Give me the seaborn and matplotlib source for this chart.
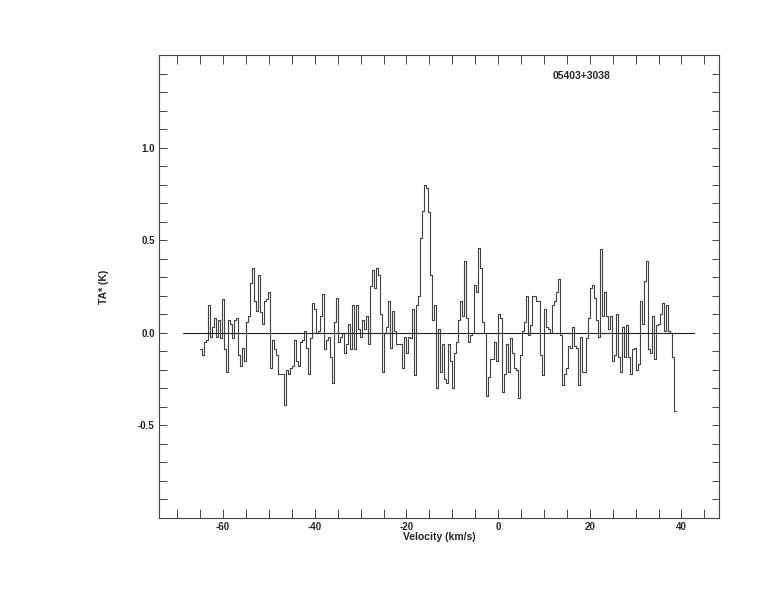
import numpy as np
import pandas as pd
import matplotlib
matplotlib.use("Agg")
import matplotlib.pyplot as plt
from matplotlib.ticker import MultipleLocator, FixedLocator, FuncFormatter
import seaborn as sns

# ---- data ----
source_name = "05403+3038"
x_label = "Velocity (km/s)"
y_label = "TA* (K)"

v_first_edge = -65.1      # km/s, left edge of first channel
channel_width = 0.4364    # km/s

ta_values = [
    -0.09, -0.12, -0.05, -0.04, 0.15, -0.02, 0.03, 0.08, -0.02, 0.07, -0.03, 0.18,
    -0.09, -0.21, 0.07, 0.05, -0.03, 0.07, 0.08, -0.12, -0.18, -0.08, -0.15, 0.06, 0.09, 0.27,
    0.35, 0.17, 0.12, 0.31, 0.11, 0.05, 0.17, 0.18, 0.22,
    -0.19, -0.04, -0.09, -0.12, -0.22, -0.22, -0.22, -0.39,
    -0.20, -0.22, -0.19, -0.18, -0.04, -0.15, -0.18, -0.05, -0.04, 0.01, -0.08, -0.22, -0.03, 0.16, 0.13, 0.00, 0.01,
    0.09, 0.21, -0.09, -0.04, -0.02, -0.13, -0.27, 0.06, 0.19, -0.05,
    -0.02, 0.00, -0.11, -0.06, 0.05, -0.09, 0.15, -0.09, 0.15, 0.02,
    -0.02, 0.07, 0.02, 0.09, -0.06, 0.25, 0.34, 0.24, 0.35, 0.31,
    0.10, -0.21, 0.00, 0.03, 0.17, -0.08, 0.12, 0.01, -0.06, -0.06,
    -0.06, -0.19, -0.02, -0.11, -0.02,
    -0.03, 0.13, -0.23, 0.15, 0.20,
    0.51, 0.66, 0.80, 0.78, 0.65, 0.31, 0.07, 0.15, -0.30, 0.02,
    -0.21, -0.06, -0.25, -0.27, -0.06, -0.15, -0.30, -0.11, -0.05, 0.07,
    0.17, 0.09, 0.39, 0.08, -0.05, -0.01, 0.00, 0.26, 0.22, 0.46,
    0.35, 0.06, 0.00, -0.34, -0.24, -0.14, -0.14, -0.05, -0.15, 0.10,
    0.08, -0.32, -0.22, -0.06, -0.21, -0.03, -0.11, -0.19, -0.20, -0.35,
    -0.12, 0.01, 0.06, 0.20, -0.01, 0.04, 0.20, 0.20, 0.17, 0.17,
    -0.12, -0.23, 0.13, 0.03, 0.02, 0.00, 0.15, 0.17, 0.22, 0.29,
    -0.01, -0.28, -0.22, -0.19, -0.07, -0.08, 0.03, -0.07, -0.08, -0.28,
    -0.02, -0.21, -0.21, -0.03, 0.08, 0.24, 0.26, 0.19, 0.07, -0.02,
    0.45, 0.09, 0.22, 0.09, 0.02, 0.09, -0.15, -0.12, 0.10, -0.13,
    -0.21, 0.03, -0.13, 0.04, -0.13, -0.22, -0.09, -0.08, -0.20, -0.17,
    0.17, 0.05, 0.28, 0.39, -0.09, -0.11, 0.09, -0.14, 0.04, 0.05,
    0.10, 0.16, 0.01, 0.15, 0.01, 0.00, -0.13, -0.42,
]

baseline_x = [-68.8, 42.7]
baseline_y = [0.0, 0.0]

x_range = (-74.0, 48.2)
y_range = (-1.0, 1.5)
x_labelled_ticks = [-60, -40, -20, 0, 20, 40]
y_labelled_ticks = [-0.5, 0.0, 0.5, 1.0]

# ---- build table ----
n = len(ta_values)
edges = v_first_edge + channel_width * np.arange(n + 1)
df = pd.DataFrame({"velocity": edges, "ta": list(ta_values) + [ta_values[-1]]})

sns.set_style("ticks")
plt.rcParams["font.family"] = ["Liberation Sans", "DejaVu Sans"]
plt.rcParams["font.weight"] = "bold"

fig = plt.figure(figsize=(7.74, 6.12), dpi=100)
ax = fig.add_axes([159 / 774, 1 - 518 / 612, (719 - 159) / 774, (518 - 55) / 612])

sns.lineplot(data=df, x="velocity", y="ta", drawstyle="steps-post",
             estimator=None, sort=False, color="#404040", linewidth=0.8, ax=ax)
sns.lineplot(x=baseline_x, y=baseline_y, color="#222222", linewidth=0.8,
             estimator=None, ax=ax)

ax.set_xlim(*x_range)
ax.set_ylim(*y_range)

ax.xaxis.set_major_locator(FixedLocator(x_labelled_ticks))
ax.xaxis.set_minor_locator(MultipleLocator(5))
ax.yaxis.set_major_locator(FixedLocator(y_labelled_ticks))
ax.yaxis.set_minor_locator(MultipleLocator(0.1))
ax.xaxis.set_major_formatter(FuncFormatter(lambda v, p: f"{v:.0f}"))
ax.yaxis.set_major_formatter(FuncFormatter(lambda v, p: f"{v:.1f}"))

ax.tick_params(axis="x", which="both", direction="in", top=True, bottom=True,
               length=6.5, width=0.7, color="#444444", pad=3, labelsize=7)
ax.tick_params(axis="y", which="both", direction="in", left=True, right=True,
               length=5.4, width=0.7, color="#444444", pad=3, labelsize=7)
for lab in ax.get_xticklabels() + ax.get_yticklabels():
    lab.set_fontweight("bold")

for s in ax.spines.values():
    s.set_color("#444444")
    s.set_linewidth(0.8)

ax.set_xlabel(x_label, fontsize=7.5, fontweight="bold")
ax.set_ylabel(y_label, fontsize=7.5, fontweight="bold")
ax.xaxis.set_label_coords(0.5, -0.031)
ax.yaxis.set_label_coords(-0.09, 0.5)

ax.text(11.9, 1.389, source_name, fontsize=7.5, fontweight="bold",
        ha="left", va="center")

fig.savefig("out.png", dpi=100)
